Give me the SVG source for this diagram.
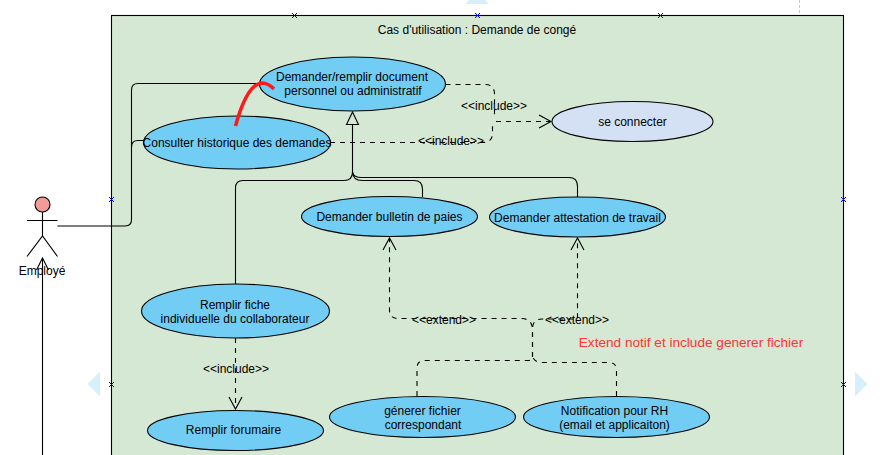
<svg xmlns="http://www.w3.org/2000/svg" width="892" height="455" viewBox="0 0 892 455">
<style>
text{font-family:"Liberation Sans",Arial,sans-serif;font-size:12px;fill:#000;text-anchor:middle}
.uc{fill:#71cdf4;stroke:#000;stroke-width:1.1}
.line{fill:none;stroke:#000;stroke-width:1.1}
.dash{fill:none;stroke:#000;stroke-width:1.1;stroke-dasharray:5 5}
.open{fill:none;stroke:#000;stroke-width:1.1}
.nav{fill:#d6f0fb}
.handle{fill:none;stroke:#0000ff;stroke-width:1}
</style>
<defs>
<path id="h" class="handle" d="M-2.500-2.500L2.500 2.500M-2.500 2.500L2.500-2.500"/>
</defs>
<g id="guides">
<path class="nav" d="M465 4H489L477-8Z"/>
<path class="nav" d="M100 371.5V396.5L87.5 384Z"/>
<path class="nav" d="M855 371.5V396.5L867.5 384Z"/>
<path d="M799.5 0V14" fill="none" stroke="#c8c8c8" stroke-width="1" stroke-dasharray="3 2"/>
</g>
<g id="system">
<rect x="111.5" y="15.5" width="732" height="460" fill="#d5e8d4" stroke="#000" stroke-width="1.1"/>
<text x="477" y="34">Cas d'utilisation : Demande de congé</text>
</g>
<g id="connectors">
<path class="line" d="M57.5 226H125Q131.5 226 131.5 219.5V90Q131.5 83.500 138 83.500H262"/>
<path class="line" d="M131.500 147Q131.500 140.500 138 140.500H144"/>
<path class="line" d="M42.500 455V258"/>
<path class="open" d="M36.500 270L42.500 258L48.500 270"/>
<path class="line" d="M352.500 124.500V172Q352.500 180.500 344 180.500H243Q235.500 180.500 235.500 188V284.500"/>
<path class="line" d="M352.500 172Q353 180.500 362 180.500H414Q422.500 180.500 422.500 189V197"/>
<path class="line" d="M352.500 172Q353 177.500 362 177.500H569Q577.500 177.500 577.500 186V197"/>
<path d="M352.500 112L346.500 124.500H358.500Z" fill="none" stroke="#000" stroke-width="1.1"/>
<path class="dash" d="M445.500 84.500H485Q494.500 84.500 494.500 94V115"/>
<path class="dash" d="M330 142.500H483Q492.500 142.500 492.500 133V122"/>
<path class="dash" d="M496 121.500H551"/>
<path class="open" d="M539 115L551 121.500L539 128"/>
<text x="494" y="110">&lt;&lt;include&gt;&gt;</text>
<text x="451" y="145">&lt;&lt;include&gt;&gt;</text>
<path class="dash" d="M235.500 338V409"/>
<path class="open" d="M229 397L235.500 409L242 397"/>
<text x="236" y="373">&lt;&lt;include&gt;&gt;</text>
<path class="dash" d="M532.500 357V330Q532.500 319 522 318.500H398Q389.500 318.500 389.500 310V238"/>
<path class="dash" d="M532.500 357V328Q533 319 542 319H577.500V238"/>
<path class="open" d="M383 250L389.500 238L396 250"/>
<path class="open" d="M571 250L577.500 238L584 250"/>
<path class="dash" d="M417 396V368Q417 360.500 425 360.500H528Q532.500 360.500 532.500 357"/>
<path class="dash" d="M616.500 396V370Q616.500 362.500 609 362.500H542Q535 362.500 532.500 357"/>
<text x="444" y="324">&lt;&lt;extend&gt;&gt;</text>
<text x="577" y="324">&lt;&lt;extend&gt;&gt;</text>
</g>
<g id="uc-demander"><ellipse class="uc" cx="352.500" cy="84" rx="93" ry="27"/><text x="352" y="81">Demander/remplir document</text><text x="353" y="95">personnel ou administratif</text></g>
<g id="uc-consulter"><ellipse class="uc" cx="237" cy="142.500" rx="93.500" ry="26.500"/><text x="237" y="146.500">Consulter historique des demandes</text></g>
<g id="uc-bulletin"><ellipse class="uc" cx="389.500" cy="216.500" rx="88" ry="20"/><text x="389.500" y="220.500">Demander bulletin de paies</text></g>
<g id="uc-attestation"><ellipse class="uc" cx="577.500" cy="217" rx="88" ry="20"/><text x="577.500" y="221.500">Demander attestation de travail</text></g>
<g id="uc-connecter"><ellipse cx="632.500" cy="121.500" rx="80.500" ry="20" fill="#d4e1f5" stroke="#000" stroke-width="1.1"/><text x="632.500" y="125.500">se connecter</text></g>
<g id="uc-fiche"><ellipse class="uc" cx="235.500" cy="311" rx="94" ry="27"/><text x="235" y="308.500">Remplir fiche</text><text x="235" y="322.500">individuelle du collaborateur</text></g>
<g id="uc-forumaire"><ellipse class="uc" cx="235.500" cy="430.500" rx="88" ry="20"/><text x="233.500" y="434">Remplir forumaire</text></g>
<g id="uc-generer"><ellipse class="uc" cx="422.500" cy="417" rx="93" ry="20.500"/><text x="422.500" y="414.500">génerer fichier</text><text x="423" y="428.500">correspondant</text></g>
<g id="uc-notification"><ellipse class="uc" cx="616.500" cy="417" rx="93" ry="20.500"/><text x="614.500" y="414.500">Notification pour RH</text><text x="614.500" y="428.500">(email et applicaiton)</text></g>
<g id="actor-employe">
<circle cx="42.500" cy="204.500" r="7.500" fill="#f19c99" stroke="#000" stroke-width="1.100"/>
<path class="line" d="M42.500 212V236M27 220.500H57.500M27 256.500L42.500 236L57.500 256.500"/>
<text x="42" y="275">Employé</text>
</g>
<g id="note">
<text x="691" y="347" style="font-size:13.600px;fill:#ff3333">Extend notif et include generer fichier</text>
</g>
<path id="scribble" d="M235.500 126Q247 84 262 83Q268 83 274 89" fill="none" stroke="#ff1a1a" stroke-width="3.500"/>
<g id="handles">
<use href="#h" x="294.500" y="15.500"/><use href="#h" x="477.500" y="15.500"/><use href="#h" x="660.500" y="15.500"/>
<use href="#h" x="111.500" y="199.500"/><use href="#h" x="843.500" y="199.500"/><use href="#h" x="111.500" y="384.500"/><use href="#h" x="843.500" y="384.500"/>
</g>
</svg>
